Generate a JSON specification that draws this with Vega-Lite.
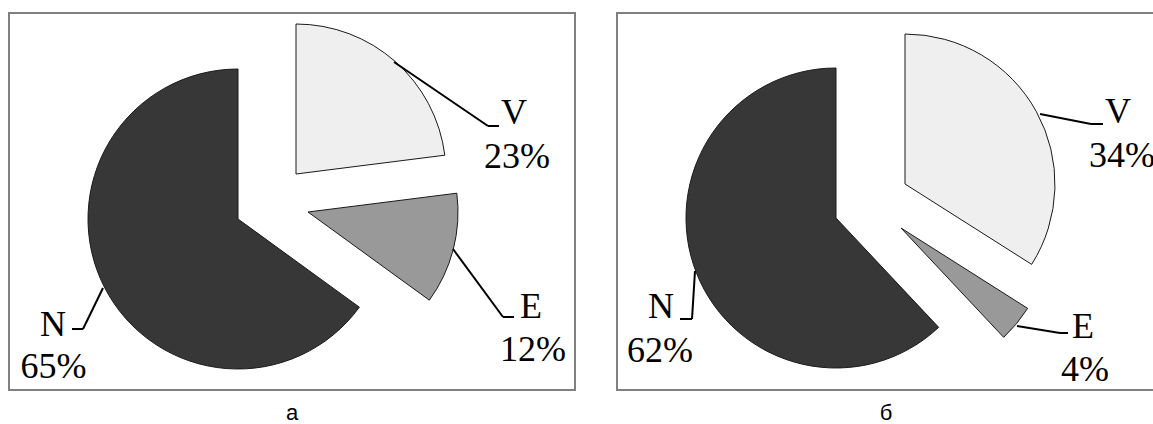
{
  "$schema": "https://vega.github.io/schema/vega-lite/v6.json",
  "background": "white",
  "padding": {"left": 8, "top": 12, "right": 0, "bottom": 0},
  "spacing": 40,
  "data": {
    "values": [
      {"panel": "а", "cat": "V", "pct": 23},
      {"panel": "а", "cat": "E", "pct": 12},
      {"panel": "а", "cat": "N", "pct": 65},
      {"panel": "б", "cat": "V", "pct": 34},
      {"panel": "б", "cat": "E", "pct": 4},
      {"panel": "б", "cat": "N", "pct": 62}
    ]
  },
  "config": {
    "view": {"stroke": "#808080", "strokeWidth": 2},
    "title": {"font": "Liberation Sans", "fontSize": 22, "fontWeight": "normal", "color": "#000000", "orient": "bottom", "offset": 13, "anchor": "middle"},
    "arc": {"radius": 150, "stroke": "#1a1a1a", "strokeWidth": 1},
    "rule": {"color": "#000000", "strokeWidth": 2},
    "text": {"font": "Liberation Serif", "fontSize": 36, "align": "center", "baseline": "alphabetic", "color": "#000000"}
  },
  "hconcat": [
    {
      "width": 566,
      "height": 377,
      "title": {"text": "а"},
      "transform": [
        {"filter": "datum.panel === 'а'"},
        {"stack": "pct", "groupby": [], "as": ["t0", "t1"]},
        {"calculate": "datum.pct + '%'", "as": "pctLabel"}
      ],
      "layer": [
        {
          "transform": [{"filter": "datum.cat === 'V'"}],
          "layer": [
            {"mark": "arc", "encoding": {
              "theta": {"field": "t0", "type": "quantitative", "scale": {"domain": [0, 100]}},
              "theta2": {"field": "t1"},
              "color": {"field": "cat", "type": "nominal", "scale": {"domain": ["V", "E", "N"], "range": ["#efefef", "#999999", "#373737"]}, "legend": null},
              "x": {"datum": 287, "type": "quantitative", "scale": {"domain": [0, 566], "nice": false, "zero": false}, "axis": null},
              "y": {"datum": 161, "type": "quantitative", "scale": {"domain": [0, 377], "reverse": true, "nice": false, "zero": false}, "axis": null}}},
            {"mark": "rule", "encoding": {
              "x": {"datum": 385, "type": "quantitative"}, "y": {"datum": 49, "type": "quantitative"},
              "x2": {"datum": 479}, "y2": {"datum": 113}}},
            {"mark": "rule", "encoding": {
              "x": {"datum": 479, "type": "quantitative"}, "y": {"datum": 113, "type": "quantitative"},
              "x2": {"datum": 490}, "y2": {"datum": 113}}},
            {"mark": "text", "encoding": {
              "x": {"datum": 505, "type": "quantitative"}, "y": {"datum": 111, "type": "quantitative"},
              "text": {"field": "cat"}}},
            {"mark": "text", "encoding": {
              "x": {"datum": 508, "type": "quantitative"}, "y": {"datum": 155, "type": "quantitative"},
              "text": {"field": "pctLabel"}}}
          ]
        },
        {
          "transform": [{"filter": "datum.cat === 'E'"}],
          "layer": [
            {"mark": "arc", "encoding": {
              "theta": {"field": "t0", "type": "quantitative", "scale": {"domain": [0, 100]}},
              "theta2": {"field": "t1"},
              "color": {"field": "cat", "type": "nominal", "legend": null},
              "x": {"datum": 299, "type": "quantitative"},
              "y": {"datum": 199, "type": "quantitative"}}},
            {"mark": "rule", "encoding": {
              "x": {"datum": 444, "type": "quantitative"}, "y": {"datum": 236, "type": "quantitative"},
              "x2": {"datum": 494}, "y2": {"datum": 304}}},
            {"mark": "rule", "encoding": {
              "x": {"datum": 494, "type": "quantitative"}, "y": {"datum": 304, "type": "quantitative"},
              "x2": {"datum": 505}, "y2": {"datum": 304}}},
            {"mark": "text", "encoding": {
              "x": {"datum": 522, "type": "quantitative"}, "y": {"datum": 305, "type": "quantitative"},
              "text": {"field": "cat"}}},
            {"mark": "text", "encoding": {
              "x": {"datum": 524, "type": "quantitative"}, "y": {"datum": 348, "type": "quantitative"},
              "text": {"field": "pctLabel"}}}
          ]
        },
        {
          "transform": [{"filter": "datum.cat === 'N'"}],
          "layer": [
            {"mark": "arc", "encoding": {
              "theta": {"field": "t0", "type": "quantitative", "scale": {"domain": [0, 100]}},
              "theta2": {"field": "t1"},
              "color": {"field": "cat", "type": "nominal", "legend": null},
              "x": {"datum": 229, "type": "quantitative"},
              "y": {"datum": 206, "type": "quantitative"}}},
            {"mark": "rule", "encoding": {
              "x": {"datum": 94, "type": "quantitative"}, "y": {"datum": 275, "type": "quantitative"},
              "x2": {"datum": 74}, "y2": {"datum": 316}}},
            {"mark": "rule", "encoding": {
              "x": {"datum": 74, "type": "quantitative"}, "y": {"datum": 316, "type": "quantitative"},
              "x2": {"datum": 63}, "y2": {"datum": 316}}},
            {"mark": "text", "encoding": {
              "x": {"datum": 44, "type": "quantitative"}, "y": {"datum": 323, "type": "quantitative"},
              "text": {"field": "cat"}}},
            {"mark": "text", "encoding": {
              "x": {"datum": 44.5, "type": "quantitative"}, "y": {"datum": 365, "type": "quantitative"},
              "text": {"field": "pctLabel"}}}
          ]
        }
      ]
    },
    {
      "width": 538,
      "height": 377,
      "title": {"text": "б"},
      "transform": [
        {"filter": "datum.panel === 'б'"},
        {"stack": "pct", "groupby": [], "as": ["t0", "t1"]},
        {"calculate": "datum.pct + '%'", "as": "pctLabel"}
      ],
      "layer": [
        {
          "transform": [{"filter": "datum.cat === 'V'"}],
          "layer": [
            {"mark": "arc", "encoding": {
              "theta": {"field": "t0", "type": "quantitative", "scale": {"domain": [0, 100]}},
              "theta2": {"field": "t1"},
              "color": {"field": "cat", "type": "nominal", "scale": {"domain": ["V", "E", "N"], "range": ["#efefef", "#999999", "#373737"]}, "legend": null},
              "x": {"datum": 288, "type": "quantitative", "scale": {"domain": [0, 538], "nice": false, "zero": false}, "axis": null},
              "y": {"datum": 171, "type": "quantitative", "scale": {"domain": [0, 377], "reverse": true, "nice": false, "zero": false}, "axis": null}}},
            {"mark": "rule", "encoding": {
              "x": {"datum": 423, "type": "quantitative"}, "y": {"datum": 101, "type": "quantitative"},
              "x2": {"datum": 474}, "y2": {"datum": 111}}},
            {"mark": "rule", "encoding": {
              "x": {"datum": 474, "type": "quantitative"}, "y": {"datum": 111, "type": "quantitative"},
              "x2": {"datum": 486}, "y2": {"datum": 111}}},
            {"mark": "text", "encoding": {
              "x": {"datum": 501, "type": "quantitative"}, "y": {"datum": 110, "type": "quantitative"},
              "text": {"field": "cat"}}},
            {"mark": {"type": "text", "clip": true}, "encoding": {
              "x": {"datum": 505, "type": "quantitative"}, "y": {"datum": 154, "type": "quantitative"},
              "text": {"field": "pctLabel"}}}
          ]
        },
        {
          "transform": [{"filter": "datum.cat === 'E'"}],
          "layer": [
            {"mark": "arc", "encoding": {
              "theta": {"field": "t0", "type": "quantitative", "scale": {"domain": [0, 100]}},
              "theta2": {"field": "t1"},
              "color": {"field": "cat", "type": "nominal", "legend": null},
              "x": {"datum": 284, "type": "quantitative"},
              "y": {"datum": 215, "type": "quantitative"}}},
            {"mark": "rule", "encoding": {
              "x": {"datum": 400, "type": "quantitative"}, "y": {"datum": 313, "type": "quantitative"},
              "x2": {"datum": 443}, "y2": {"datum": 320}}},
            {"mark": "rule", "encoding": {
              "x": {"datum": 443, "type": "quantitative"}, "y": {"datum": 320, "type": "quantitative"},
              "x2": {"datum": 451}, "y2": {"datum": 320}}},
            {"mark": "text", "encoding": {
              "x": {"datum": 466, "type": "quantitative"}, "y": {"datum": 325, "type": "quantitative"},
              "text": {"field": "cat"}}},
            {"mark": "text", "encoding": {
              "x": {"datum": 468, "type": "quantitative"}, "y": {"datum": 368, "type": "quantitative"},
              "text": {"field": "pctLabel"}}}
          ]
        },
        {
          "transform": [{"filter": "datum.cat === 'N'"}],
          "layer": [
            {"mark": "arc", "encoding": {
              "theta": {"field": "t0", "type": "quantitative", "scale": {"domain": [0, 100]}},
              "theta2": {"field": "t1"},
              "color": {"field": "cat", "type": "nominal", "legend": null},
              "x": {"datum": 219, "type": "quantitative"},
              "y": {"datum": 205, "type": "quantitative"}}},
            {"mark": "rule", "encoding": {
              "x": {"datum": 78, "type": "quantitative"}, "y": {"datum": 258, "type": "quantitative"},
              "x2": {"datum": 75}, "y2": {"datum": 306}}},
            {"mark": "rule", "encoding": {
              "x": {"datum": 75, "type": "quantitative"}, "y": {"datum": 306, "type": "quantitative"},
              "x2": {"datum": 63}, "y2": {"datum": 306}}},
            {"mark": "text", "encoding": {
              "x": {"datum": 44, "type": "quantitative"}, "y": {"datum": 305, "type": "quantitative"},
              "text": {"field": "cat"}}},
            {"mark": "text", "encoding": {
              "x": {"datum": 43, "type": "quantitative"}, "y": {"datum": 349, "type": "quantitative"},
              "text": {"field": "pctLabel"}}}
          ]
        }
      ]
    }
  ]
}
